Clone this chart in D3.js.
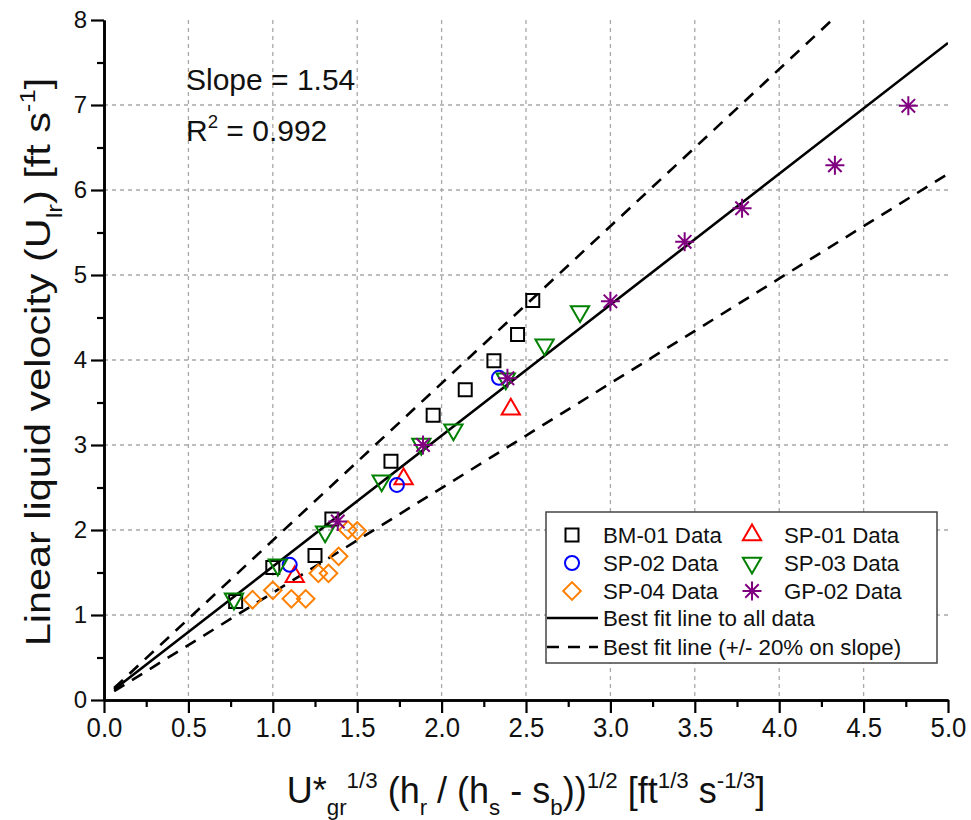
<!DOCTYPE html>
<html>
<head>
<meta charset="utf-8">
<script src="https://cdn.jsdelivr.net/npm/d3@7"></script>
<style>
  body { margin: 0; background: #fff; }
  svg { font-family: "Liberation Sans", Arial, sans-serif; }
</style>
</head>
<body>
<div id="chart"></div>
<script>
// data
var bm01_x = [0.78, 1.00, 1.25, 1.35, 1.70, 1.95, 2.14, 2.31, 2.45, 2.54];
var bm01_y = [1.16, 1.56, 1.70, 2.13, 2.81, 3.35, 3.65, 3.99, 4.30, 4.70];
var sp01_x = [1.13, 1.775, 2.41];
var sp01_y = [1.45, 2.60, 3.42];
var sp02_x = [1.10, 1.735, 2.34];
var sp02_y = [1.59, 2.53, 3.79];
var sp03_x = [0.77, 1.03, 1.31, 1.645, 1.88, 2.07, 2.38, 2.61, 2.82];
var sp03_y = [1.19, 1.59, 1.98, 2.58, 3.01, 3.18, 3.78, 4.18, 4.57];
var sp04_x = [0.88, 1.00, 1.11, 1.195, 1.27, 1.33, 1.39, 1.445, 1.50];
var sp04_y = [1.18, 1.29, 1.19, 1.19, 1.49, 1.49, 1.69, 2.00, 1.99];
var gp02_x = [1.385, 1.89, 2.39, 3.00, 3.44, 3.78, 4.33, 4.765];
var gp02_y = [2.10, 3.00, 3.785, 4.69, 5.39, 5.785, 6.29, 6.99];

var fit_slope = 1.54;
var fit_intercept = 0.03;
var band = 0.20;
var fit_x = [0.06, 5.0];

var x_ticks = [0, 0.5, 1, 1.5, 2, 2.5, 3, 3.5, 4, 4.5, 5];
var y_ticks = [0, 1, 2, 3, 4, 5, 6, 7, 8];

var series = [
    {name: "BM-01 Data", xs: bm01_x, ys: bm01_y, shape: "square", color: "#000000"},
    {name: "SP-01 Data", xs: sp01_x, ys: sp01_y, shape: "tri_up", color: "#ff0000"},
    {name: "SP-02 Data", xs: sp02_x, ys: sp02_y, shape: "circle", color: "#0000ff"},
    {name: "SP-03 Data", xs: sp03_x, ys: sp03_y, shape: "tri_down", color: "#008000"},
    {name: "SP-04 Data", xs: sp04_x, ys: sp04_y, shape: "diamond", color: "#ff8000"},
    {name: "GP-02 Data", xs: gp02_x, ys: gp02_y, shape: "star", color: "#800080"}
];

var svg_width = 971, svg_height = 820;
var margins = {top: 20, right: 23, bottom: 120, left: 104};
var chartWidth = svg_width - margins.left - margins.right;
var chartHeight = svg_height - margins.top - margins.bottom;

var svg = d3.select("#chart").append("svg")
    .attr("width", svg_width)
    .attr("height", svg_height);

var chart = svg.append("g")
    .attr("transform", `translate(${margins.left},${margins.top})`);

var x_scale = d3.scaleLinear().domain([0, 5]).range([0, chartWidth]);
var y_scale = d3.scaleLinear().domain([0, 8]).range([chartHeight, 0]);

// grid
chart.append("g").selectAll("line")
    .data(x_ticks.filter(d => d > 0 && d < 5))
    .enter().append("line")
    .attr("x1", d => x_scale(d)).attr("x2", d => x_scale(d))
    .attr("y1", 0).attr("y2", chartHeight)
    .attr("stroke", "#a8a8a8").attr("stroke-width", 1.3)
    .attr("stroke-dasharray", "4,4");
chart.append("g").selectAll("line")
    .data(y_ticks.filter(d => d > 0 && d < 8))
    .enter().append("line")
    .attr("x1", 0).attr("x2", chartWidth)
    .attr("y1", d => y_scale(d)).attr("y2", d => y_scale(d))
    .attr("stroke", "#a8a8a8").attr("stroke-width", 1.3)
    .attr("stroke-dasharray", "4,4");

// fit lines, clipped to the plot
chart.append("clipPath").attr("id", "plotclip")
    .append("rect").attr("width", chartWidth).attr("height", chartHeight);

var fit_lines = [
    {slope: fit_slope, dash: null},
    {slope: fit_slope * (1 + band), dash: "12,9"},
    {slope: fit_slope * (1 - band), dash: "12,9"}
];
var line_gen = d3.line().x(d => x_scale(d[0])).y(d => y_scale(d[1]));
fit_lines.forEach(function(f) {
    chart.append("path")
        .attr("clip-path", "url(#plotclip)")
        .attr("d", line_gen(fit_x.map(x => [x, f.slope * x + fit_intercept])))
        .attr("fill", "none")
        .attr("stroke", "#000")
        .attr("stroke-width", 2.6)
        .attr("stroke-dasharray", f.dash);
});

// marker shapes
function marker_path(shape) {
    if (shape === "square") return d3.symbol().type(d3.symbolSquare).size(169)();
    if (shape === "circle") return d3.symbol().type(d3.symbolCircle).size(155)();
    if (shape === "tri_up" || shape === "tri_down") return d3.symbol().type(d3.symbolTriangle).size(145)();
    if (shape === "diamond") return d3.symbol().type(d3.symbolSquare).size(155)();
    // asterisk with 8 spokes
    var r = 9.5, p = "";
    for (var i = 0; i < 4; i++) {
        var a = i * Math.PI / 4;
        p += `M${-r * Math.cos(a)},${-r * Math.sin(a)}L${r * Math.cos(a)},${r * Math.sin(a)}`;
    }
    return p;
}
function marker_rotate(shape) {
    if (shape === "tri_down") return 180;
    if (shape === "diamond") return 45;
    return 0;
}

series.forEach(function(s) {
    var pts = s.xs.map((x, i) => [x, s.ys[i]]);
    chart.append("g").selectAll("path")
        .data(pts)
        .enter().append("path")
        .attr("d", marker_path(s.shape))
        .attr("transform", d => `translate(${x_scale(d[0])},${y_scale(d[1])}) rotate(${marker_rotate(s.shape)})`)
        .attr("fill", "none")
        .attr("stroke", s.color)
        .attr("stroke-width", 2);
});

// axes
var bottom_axis = d3.axisBottom(x_scale).tickValues(x_ticks)
    .tickSize(13).tickSizeOuter(0).tickPadding(4)
    .tickFormat(d3.format(".1f"));
var bottom_minor = d3.axisBottom(x_scale).tickValues(d3.range(0.25, 5, 0.5))
    .tickSize(7).tickSizeOuter(0).tickFormat("");
var left_axis = d3.axisLeft(y_scale).tickValues(y_ticks)
    .tickSize(13).tickSizeOuter(0).tickPadding(4)
    .tickFormat(d3.format("d"));
var left_minor = d3.axisLeft(y_scale).tickValues(d3.range(0.5, 8, 1))
    .tickSize(7).tickSizeOuter(0).tickFormat("");

[bottom_minor, bottom_axis].forEach(function(ax) {
    chart.append("g").attr("class", "x_axis").attr("transform", `translate(0,${chartHeight})`).call(ax);
});
[left_minor, left_axis].forEach(function(ax) {
    chart.append("g").attr("class", "y_axis").call(ax);
});
chart.selectAll(".domain").attr("stroke", "#000").attr("stroke-width", 2.6);
chart.selectAll(".tick line").attr("stroke", "#000").attr("stroke-width", 2.2);
chart.selectAll(".tick text")
    .attr("font-family", "Liberation Sans, Arial, sans-serif")
    .attr("fill", "#111");
chart.selectAll(".x_axis .tick text").attr("font-size", 28).attr("transform", "scale(0.92,1)");
chart.selectAll(".y_axis .tick text").attr("font-size", 24);

// text with sub/superscripts
function rich_text(sel, parts, size) {
    var offset = 0;
    parts.forEach(function(p) {
        var shift = 0, fs = size;
        if (p[1] === "sub") { shift = size * 0.32; fs = size * 0.62; }
        if (p[1] === "sup") { shift = -size * 0.42; fs = size * 0.62; }
        sel.append("tspan")
            .attr("dy", shift - offset)
            .attr("font-size", fs)
            .text(p[0]);
        offset = shift;
    });
    if (offset !== 0) sel.append("tspan").attr("dy", -offset).text("\u200b");
}

var y_label = svg.append("text")
    .attr("transform", `translate(50,${margins.top + chartHeight / 2 + 2}) rotate(-90) scale(1.15,1)`)
    .attr("text-anchor", "middle")
    .attr("font-size", 36).attr("fill", "#111");
rich_text(y_label, [["Linear liquid velocity (U"], ["lr", "sub"], [") [ft s"], ["-1", "sup"], ["]"]], 36);

var x_label = svg.append("text")
    .attr("x", margins.left + chartWidth / 2)
    .attr("y", 803)
    .attr("text-anchor", "middle")
    .attr("font-size", 36).attr("fill", "#111");
rich_text(x_label, [["U*"], ["gr", "sub"], ["1/3", "sup"], [" (h"], ["r", "sub"], [" / (h"], ["s", "sub"],
    [" - s"], ["b", "sub"], ["))"], ["1/2", "sup"], [" [ft"], ["1/3", "sup"], [" s"], ["-1/3", "sup"], ["]"]], 36);

// annotation
svg.append("text").attr("x", 186).attr("y", 90)
    .attr("font-size", 30).attr("fill", "#111")
    .text("Slope = 1.54");
var r2 = svg.append("text").attr("x", 186).attr("y", 141)
    .attr("font-size", 30).attr("fill", "#111");
rich_text(r2, [["R"], ["2", "sup"], [" = 0.992"]], 30);

// legend
var legend = svg.append("g");
legend.append("rect")
    .attr("x", 546).attr("y", 512)
    .attr("width", 391).attr("height", 151)
    .attr("fill", "#fff").attr("stroke", "#444").attr("stroke-width", 1.5);

var legend_rows = [535, 563, 591];
var legend_cols = [{sym: 572, txt: 603}, {sym: 752, txt: 784}];
series.forEach(function(s, i) {
    var col = legend_cols[i % 2], row = legend_rows[Math.floor(i / 2)];
    legend.append("path")
        .attr("d", marker_path(s.shape))
        .attr("transform", `translate(${col.sym},${row}) rotate(${marker_rotate(s.shape)})`)
        .attr("fill", "none").attr("stroke", s.color)
        .attr("stroke-width", 2);
    legend.append("text")
        .attr("x", col.txt).attr("y", row).attr("dy", "0.36em")
        .attr("font-size", 22.3).attr("fill", "#111")
        .text(s.name);
});
[{y: 618, dash: null, label: "Best fit line to all data"},
 {y: 647, dash: "12,9", label: "Best fit line (+/- 20% on slope)"}].forEach(function(l) {
    legend.append("line")
        .attr("x1", 547).attr("x2", 598).attr("y1", l.y).attr("y2", l.y)
        .attr("stroke", "#000").attr("stroke-width", 2.4)
        .attr("stroke-dasharray", l.dash);
    legend.append("text")
        .attr("x", 603).attr("y", l.y).attr("dy", "0.36em")
        .attr("font-size", 22.3).attr("fill", "#111")
        .text(l.label);
});
</script>
</body>
</html>
